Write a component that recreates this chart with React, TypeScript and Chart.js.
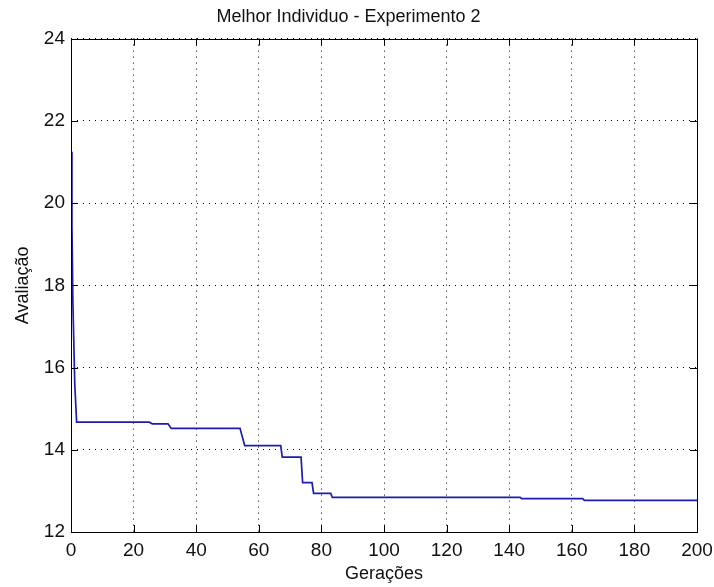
import React, { useEffect, useRef } from "react";
import { Chart, registerables } from "chart.js";

Chart.register(...registerables);

const TITLE = "Melhor Individuo - Experimento 2";
const X_LABEL = "Gerações";
const Y_LABEL = "Avaliação";

// Break points of the best-individual curve (generation, evaluation)
const generations = [0, 0.3, 0.6, 1.2, 1.8, 25, 26, 31, 32, 54, 55.5, 67, 67.5, 73.5, 74, 77, 77.5, 83, 83.5, 143.5, 144, 163.5, 164, 200];
const evaluations = [21.25, 19.45, 17.6, 15.6, 14.67, 14.67, 14.63, 14.63, 14.52, 14.52, 14.1, 14.1, 13.82, 13.82, 13.2, 13.2, 12.94, 12.94, 12.84, 12.84, 12.81, 12.81, 12.77, 12.77];

const X_MIN = 0, X_MAX = 200, X_STEP = 20;
const Y_MIN = 12, Y_MAX = 24, Y_STEP = 2;

const FONT = "'Liberation Sans', Arial, sans-serif";

const boxPlugin = {
  id: "matlabBox",
  afterDraw(chart: any) {
    const { ctx, chartArea, scales } = chart;
    const { left, right, top, bottom } = chartArea;
    const len = 7;
    ctx.save();
    ctx.strokeStyle = "#000";
    ctx.lineWidth = 1;
    ctx.beginPath();
    scales.x.ticks.forEach((t: any) => {
      const px = Math.round(scales.x.getPixelForValue(t.value)) + 0.5;
      ctx.moveTo(px, bottom);
      ctx.lineTo(px, bottom - len);
      ctx.moveTo(px, top);
      ctx.lineTo(px, top + len);
    });
    scales.y.ticks.forEach((t: any) => {
      const py = Math.round(scales.y.getPixelForValue(t.value)) + 0.5;
      ctx.moveTo(left, py);
      ctx.lineTo(left + len, py);
      ctx.moveTo(right, py);
      ctx.lineTo(right - len, py);
    });
    ctx.stroke();
    ctx.strokeRect(Math.round(left) + 0.5, Math.round(top) + 0.5, Math.round(right - left), Math.round(bottom - top));
    ctx.restore();
  },
};

export default function App() {
  const ref = useRef<HTMLCanvasElement | null>(null);

  useEffect(() => {
    document.body.style.margin = "0";
    document.body.style.background = "#fff";
    const canvas = ref.current;
    if (!canvas) return;
    const points = generations.map((g, i) => ({ x: g, y: evaluations[i] }));
    const chart = new Chart(canvas, {
      type: "line",
      data: {
        datasets: [
          {
            data: points,
            borderColor: "#1c1cae",
            borderWidth: 1.7,
            pointRadius: 0,
            tension: 0,
            fill: false,
          },
        ],
      },
      options: {
        responsive: false,
        animation: false,
        layout: { padding: { left: 0, right: 17, top: 0, bottom: 0 } },
        plugins: {
          legend: { display: false },
          tooltip: { enabled: false },
          title: {
            display: true,
            text: TITLE,
            color: "#111",
            font: { family: FONT, size: 18, weight: "normal", lineHeight: 1.2 },
            padding: { top: 6, bottom: 11 },
          },
        },
        scales: {
          x: {
            type: "linear",
            min: X_MIN,
            max: X_MAX,
            ticks: {
              stepSize: X_STEP,
              color: "#111",
              padding: 7,
              font: { family: FONT, size: 19 },
              maxRotation: 0,
            },
            grid: { color: "#000", lineWidth: 1, drawTicks: false },
            border: { display: false, dash: [1, 5] },
            title: {
              display: true,
              text: X_LABEL,
              color: "#111",
              font: { family: FONT, size: 18 },
              padding: { top: 0, bottom: 2 },
            },
            afterFit(scale: any) {
              scale.height = 55;
              scale.paddingLeft = 0;
              scale.paddingRight = 0;
            },
          },
          y: {
            type: "linear",
            min: Y_MIN,
            max: Y_MAX,
            ticks: {
              stepSize: Y_STEP,
              color: "#111",
              padding: 6,
              font: { family: FONT, size: 19 },
            },
            grid: { color: "#000", lineWidth: 1, drawTicks: false },
            border: { display: false, dash: [1, 5] },
            title: {
              display: true,
              text: Y_LABEL,
              color: "#111",
              font: { family: FONT, size: 18 },
              padding: { top: 12, bottom: 4 },
            },
            afterFit(scale: any) {
              scale.width = 71;
            },
          },
        },
      },
      plugins: [boxPlugin],
    });
    return () => chart.destroy();
  }, []);

  return (
    <div style={{ width: 714, height: 587, background: "#fff" }}>
      <canvas ref={ref} width={714} height={587} />
    </div>
  );
}
